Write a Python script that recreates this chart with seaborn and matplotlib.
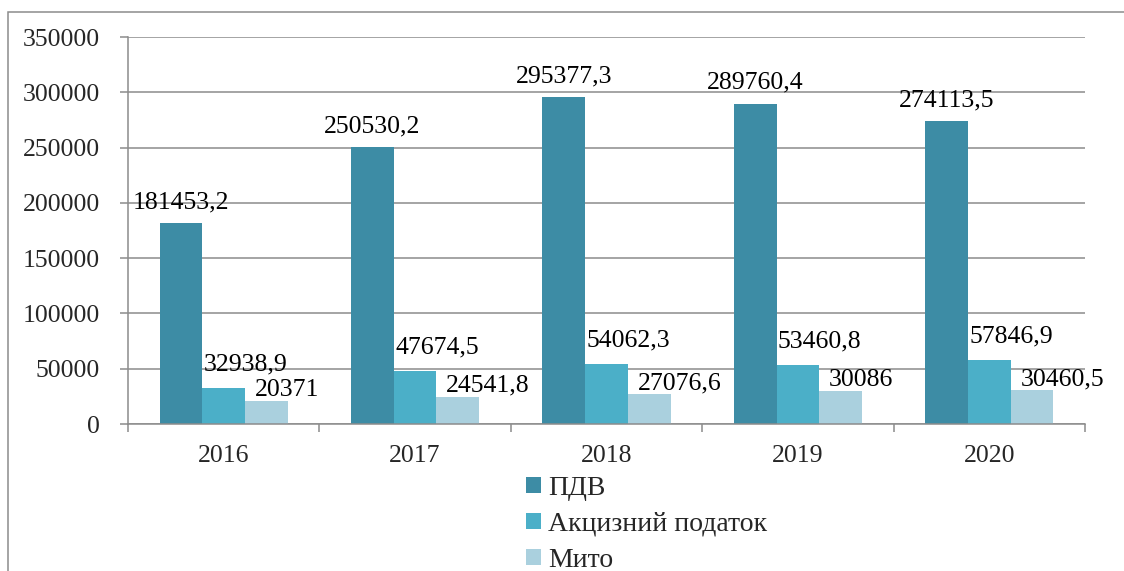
import pandas as pd
import numpy as np
import matplotlib.pyplot as plt
import matplotlib.patches as mpatches
import seaborn as sns

years = ['2016', '2017', '2018', '2019', '2020']
series = ['ПДВ', 'Акцизний податок', 'Мито']
pdv = [181453.2, 250530.2, 295377.3, 289760.4, 274113.5]
excise = [32938.9, 47674.5, 54062.3, 53460.8, 57846.9]
duty = [20371, 24541.8, 27076.6, 30086, 30460.5]
colors = ['#3d8ca5', '#4bafc8', '#aad0de']

df = pd.DataFrame({
    'year': years * 3,
    'tax': [s for s in series for _ in years],
    'value': pdv + excise + duty,
})

sns.set_theme(style='white')
plt.rcParams['font.family'] = ['Liberation Serif', 'DejaVu Serif']
grey = '#8c8c8c'

fig = plt.figure(figsize=(11.24, 5.71), dpi=100)
ax = fig.add_axes([0.1139, 0.2574, 0.8514, 0.6778])

sns.barplot(data=df, x='year', y='value', hue='tax', palette=colors,
            width=0.67, gap=0, linewidth=0, saturation=1, ax=ax, legend=True)

ax.set_ylim(0, 350000)
ax.set_xlim(-0.5, len(years) - 0.5)
ax.set_yticks(np.arange(0, 350001, 50000))
ax.set_yticklabels([str(v) for v in range(0, 350001, 50000)])
ax.yaxis.grid(True, color=grey, linewidth=1.1)
ax.set_axisbelow(True)
ax.set_xlabel('')
ax.set_ylabel('')
for s in ['top', 'right']:
    ax.spines[s].set_visible(False)
for s in ['left', 'bottom']:
    ax.spines[s].set_color(grey)
    ax.spines[s].set_linewidth(1.1)
ax.tick_params(axis='y', which='major', length=6, width=1.1, color=grey,
               pad=14, labelsize=18.5, left=True)
ax.tick_params(axis='x', which='major', length=0, pad=15, labelsize=18.5)
ax.set_xticks(np.arange(-0.5, len(years), 1), minor=True)
ax.tick_params(axis='x', which='minor', length=6, width=1.1, color=grey,
               bottom=True, direction='out')

# value labels
offsets = [((0, 7), 'center', 'bottom'), ((1, 17), 'left', 'center'), ((7, 8), 'left', 'center')]
for cont, (off, ha, va) in zip(ax.containers, offsets):
    for p in cont:
        h = p.get_height()
        txt = f"{h:.10g}".replace('.', ',')
        x = p.get_x() + p.get_width() / 2 if ha == 'center' else p.get_x()
        ax.annotate(txt, (x, h), xytext=off, textcoords='offset points',
                    ha=ha, va=va, fontsize=18.5, color='black')

leg = ax.legend(loc='upper left', bbox_to_anchor=(526 / 1124, 1 - 476 / 571),
                bbox_transform=fig.transFigure, frameon=False, fontsize=20,
                handlelength=0.54, handleheight=0.54, handletextpad=0.25,
                labelspacing=0.39, borderpad=0, borderaxespad=0)

# outer chart frame (left and top edges)
fig.add_artist(mpatches.Rectangle((8 / 1124, -0.1), 1.2, 1.1 - 12 / 571,
                                  transform=fig.transFigure, fill=False,
                                  edgecolor=grey, linewidth=1.1, clip_on=False))

fig.savefig('out.png', dpi=100)
